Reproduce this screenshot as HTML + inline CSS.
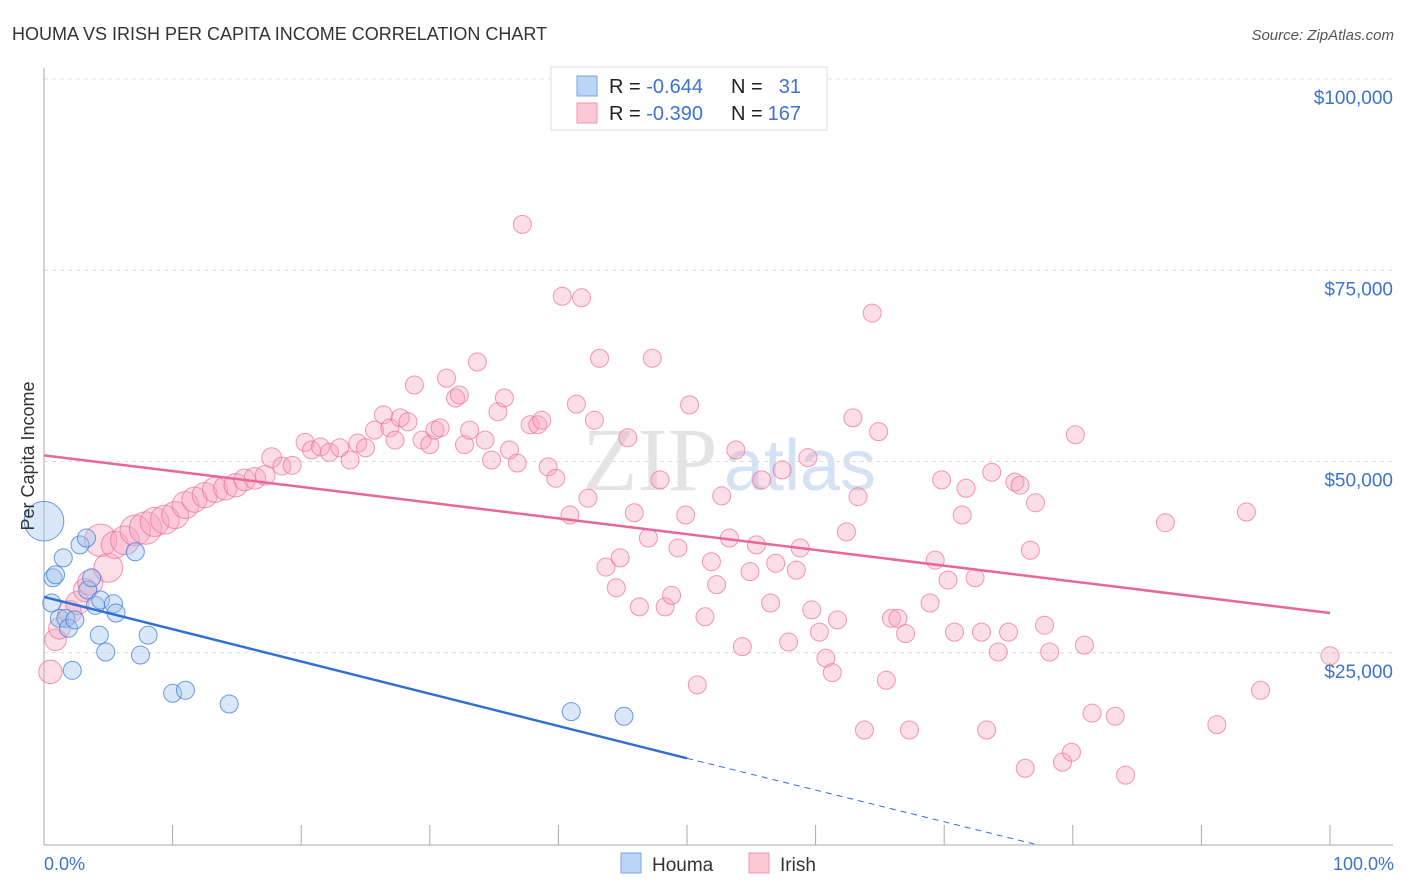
<!DOCTYPE html>
<html><head><meta charset="utf-8">
<style>
body{margin:0;background:#fff;font-family:"Liberation Sans",sans-serif;}
#wrap{position:relative;width:1406px;height:892px;overflow:hidden;}
</style></head>
<body>
<div id="wrap">
<svg id="chart" width="1406" height="892">
<text x="12" y="40" font-size="18" fill="#333">HOUMA VS IRISH PER CAPITA INCOME CORRELATION CHART</text>
<text x="1394" y="40" font-size="15" fill="#555" text-anchor="end" font-style="italic">Source: ZipAtlas.com</text>
<text x="650" y="490" font-size="90" fill="#e4e4e4" font-family="Liberation Serif" text-anchor="middle">ZIP</text>
<text x="800" y="490" font-size="72" fill="#d4e2f4" text-anchor="middle">atlas</text>
<g id="grid"></g>
<g id="axes"></g>
<g id="pts"></g>
<g id="lines"></g>
<text transform="translate(34,456) rotate(-90)" font-size="18" fill="#333" text-anchor="middle">Per Capita Income</text>
<text x="44" y="870" font-size="18" fill="#3b73d1">0.0%</text>
<text x="1394" y="870" font-size="18" fill="#3b73d1" text-anchor="end">100.0%</text>
<g>
<rect x="551" y="67" width="276" height="63" fill="#fff" stroke="#ddd"/>
<rect x="577" y="76" width="20" height="20" fill="#bcd4f5" stroke="#7aa5e6"/>
<rect x="577" y="103" width="20" height="20" fill="#fbc8d8" stroke="#f094b2"/>
<text x="609" y="93" font-size="20" fill="#222">R = <tspan fill="#3b73d1">-0.644</tspan></text>
<text x="731" y="93" font-size="20" fill="#222">N =</text>
<text x="801" y="93" font-size="20" fill="#3b73d1" text-anchor="end">31</text>
<text x="609" y="120" font-size="20" fill="#222">R = <tspan fill="#3b73d1">-0.390</tspan></text>
<text x="731" y="120" font-size="20" fill="#222">N =</text>
<text x="801" y="120" font-size="20" fill="#3b73d1" text-anchor="end">167</text>
</g>
<g>
<rect x="621" y="853" width="20" height="20" fill="#bcd4f5" stroke="#7aa5e6"/>
<text x="652" y="871" font-size="19" fill="#333">Houma</text>
<rect x="749" y="853" width="20" height="20" fill="#fbc8d8" stroke="#f094b2"/>
<text x="780" y="871" font-size="19" fill="#333">Irish</text>
</g>
</svg>
</div>
<script>
const yTicks=[25000,50000,75000,100000];
const yTickLabels=["$25,000","$50,000","$75,000","$100,000"];
const xTicks=[0,10,20,30,40,50,60,70,80,90,100];
const houmaX=[0,0.6,0.7,0.9,1.2,1.5,1.7,1.9,2.2,2.4,2.8,3.3,3.4,3.7,4.0,4.3,4.4,4.8,5.4,5.6,7.1,7.5,8.1,10,11,14.4,41,45.1];
const houmaY=[42.2,31.5,34.8,35.2,29.5,37.4,29.5,28.2,22.7,29.3,39.1,40,33.2,34.8,31.2,27.3,31.9,25.1,31.4,30.2,38.2,24.7,27.3,19.7,20.1,18.3,17.3,16.7];
const houmaSize=[2.2,1,1,1,1,1,1,1,1,1,1,1,1,1,1,1,1,1,1,1,1,1,1,1,1,1,1,1];
const irishX=[0.5,0.9,1.2,2.0,2.6,3.2,3.6,4.4,5.0,5.5,6.3,7.1,7.9,8.6,9.4,10.2,11.0,11.7,12.5,13.3,14.1,14.9,15.6,16.4,17.2,17.7,18.5,19.3,20.3,20.8,21.5,22.2,23.0,23.8,24.4,25.0,25.7,26.4,26.9,27.3,27.7,28.3,28.8,29.4,30.0,30.4,30.8,31.3,32.0,32.3,32.7,33.1,33.7,34.3,34.8,35.3,35.8,36.2,36.8,37.2,37.8,38.4,38.7,39.2,39.8,40.3,40.9,41.4,41.8,42.3,42.8,43.2,43.7,44.5,44.8,45.4,45.9,46.3,47.0,47.3,47.9,48.3,48.8,49.3,49.9,50.2,50.8,51.4,51.9,52.3,52.7,53.3,53.8,54.3,54.9,55.4,55.8,56.5,56.9,57.4,57.9,58.5,58.8,59.4,59.7,60.3,60.8,61.3,61.7,62.4,62.9,63.3,63.8,64.4,64.9,65.5,65.9,66.4,67.0,67.3,68.9,69.3,69.8,70.3,70.8,71.4,71.7,72.4,72.9,73.3,73.7,74.2,75.0,75.5,75.9,76.3,76.7,77.1,77.8,78.2,79.2,79.9,80.2,80.9,81.5,83.3,84.1,87.2,91.2,93.5,94.6,100];
const irishY=[22.5,26.7,28.2,30.3,31.5,33.2,34.2,39.7,36.1,39.1,39.7,41.0,41.3,42.1,42.4,43.0,44.3,45.0,45.6,46.3,46.5,46.9,47.6,47.8,48.2,50.5,49.4,49.5,52.5,51.5,51.9,51.2,51.8,50.2,52.4,51.8,54.1,56.1,54.4,52.8,55.7,55.2,60.0,52.8,52.2,54.1,54.4,60.9,58.3,58.7,52.2,54.1,63.0,52.8,50.2,56.5,58.3,51.5,49.8,81.0,54.8,54.8,55.4,49.3,47.8,71.6,43.0,57.5,71.4,45.2,55.4,63.5,36.2,33.5,37.4,53.1,43.3,31.0,40.0,63.5,47.6,31.0,32.5,38.7,43.0,57.4,20.8,29.7,36.9,33.9,45.5,40.0,51.5,25.8,35.6,39.1,47.6,31.5,36.7,48.9,26.4,35.8,38.7,50.5,30.6,27.7,24.3,22.4,29.3,40.8,55.7,45.4,14.9,69.4,53.9,21.4,29.5,29.5,27.5,14.9,31.5,37.1,47.6,34.5,27.7,43.0,46.5,34.8,27.7,14.9,48.6,25.1,27.7,47.3,46.9,9.9,38.4,44.6,28.6,25.1,10.7,12.0,53.5,26.0,17.1,16.7,9.0,42.0,15.6,43.4,20.1,24.6];
const irishSize=[1.3,1.2,1.2,1.3,1.3,1.3,1.4,1.8,1.6,1.5,1.6,1.7,1.8,1.6,1.6,1.5,1.5,1.4,1.4,1.4,1.3,1.3,1.2,1.2,1.1,1.1];
const houmaFit=[[0,32.3],[50,11.2]];
const houmaFitExt=[[50,11.2],[77,0]];
const irishFit=[[0,50.8],[100,30.2]];

const NS="http://www.w3.org/2000/svg";
const X0=44,X1=1330,Y0=844,YK=7.65;
const sx=v=>X0+(X1-X0)*v/100;
const sy=k=>Y0-k*YK;
function mk(tag,parent,attrs){const e=document.createElementNS(NS,tag);for(const k in attrs)e.setAttribute(k,attrs[k]);document.getElementById(parent).appendChild(e);return e;}

yTicks.forEach((t,i)=>{
  const y=sy(t/1000);
  const g=mk('line','grid',{x1:X0,x2:1393,y1:y,y2:y,stroke:'#ddd','stroke-dasharray':'4,4'});
  
  
  const tx=mk('text','grid',{x:1393,y:y+25,'font-size':19,fill:'#3b73d1','text-anchor':'end'});
  tx.textContent=yTickLabels[i];
  
  
});
const ya=mk('line','axes',{x1:X0,x2:X0,y1:68,y2:845,stroke:'#aaa'});


const xa=mk('line','axes',{x1:X0,x2:1393,y1:845,y2:845,stroke:'#aaa'});


xTicks.forEach(t=>{
  const l=mk('line','axes',{x1:sx(t),x2:sx(t),y1:825,y2:845,stroke:'#aaa'});
  
  
});
irishX.forEach((v,i)=>{
  const r=9*(irishSize[i]||1);
  const c=mk('circle','pts',{cx:sx(v),cy:sy(irishY[i]),r:r,fill:'rgba(247,160,190,0.35)',stroke:'rgba(236,110,150,0.7)','stroke-width':1});
  
  
});
houmaX.forEach((v,i)=>{
  const r=9*(houmaSize[i]||1);
  const c=mk('circle','pts',{cx:sx(v),cy:sy(houmaY[i]),r:r,fill:'rgba(160,195,240,0.4)',stroke:'rgba(70,130,215,0.8)','stroke-width':1});
  
  
});
const l1=mk('line','lines',{x1:sx(irishFit[0][0]),y1:sy(irishFit[0][1]),x2:sx(irishFit[1][0]),y2:sy(irishFit[1][1]),stroke:'#e8679a','stroke-width':2.5});


const l2=mk('line','lines',{x1:sx(houmaFit[0][0]),y1:sy(houmaFit[0][1]),x2:sx(houmaFit[1][0]),y2:sy(houmaFit[1][1]),stroke:'#2f6fd6','stroke-width':2.5});


const l3=mk('line','lines',{x1:sx(houmaFitExt[0][0]),y1:sy(houmaFitExt[0][1]),x2:sx(houmaFitExt[1][0]),y2:sy(houmaFitExt[1][1]),stroke:'#2f6fd6','stroke-width':1,'stroke-dasharray':'6,5'});


</script>
</body></html>
